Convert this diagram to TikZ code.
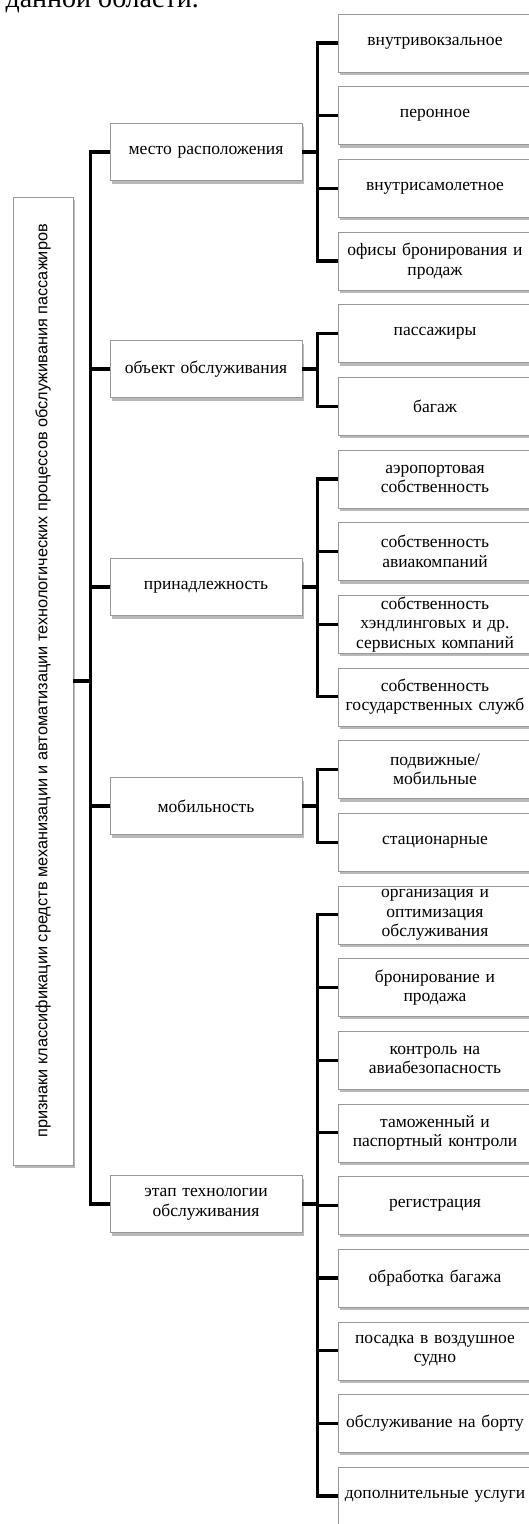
\documentclass[tikz,border=0pt]{standalone}
\usepackage{fontspec}
\setmainfont{Liberation Serif}
\newfontfamily\rootfont{Liberation Sans}
\usetikzlibrary{shadows}
\begin{document}
\begin{tikzpicture}[x=1pt,y=-1pt,line join=miter,font=\fontsize{17.5}{19.5}\selectfont,
		box/.style={draw=gray!80,fill=white,inner sep=0pt,align=center,
			drop shadow={shadow xshift=1.5pt,shadow yshift=-3pt,fill=gray!55,opacity=1}},
		leaf/.style={box,minimum width=194pt,minimum height=58pt,text width=190pt},
		group/.style={box,minimum width=192pt,minimum height=57pt,text width=184pt},
		link/.style={line width=3.2pt}]
		\useasboundingbox (0,0) rectangle (529,1524);
		\node[anchor=base west,font=\fontsize{28}{30}\selectfont] (tail) at (2,7) {данной области.};
		% root
		\node[box,minimum width=60pt,minimum height=968pt] (root) at (43,681)
			{\rotatebox{90}{\rootfont\fontsize{16.3}{18}\selectfont признаки классификации средств механизации и автоматизации технологических процессов обслуживания пассажиров}};
		% groups
		\node[group] (m1) at (206,152) {место расположения};
		\node[group] (m2) at (206,369) {объект обслуживания};
		\node[group] (m3) at (206,587) {принадлежность};
		\node[group] (m4) at (206,806) {мобильность};
		\node[group] (m5) at (206,1204) {этап технологии\\обслуживания};
		% leaves
		\foreach \t [count=\i] in {{внутривокзальное},{перонное},{внутрисамолетное},{офисы бронирования и\\продаж},
			{пассажиры},{багаж},
			{аэропортовая\\собственность},{собственность\\авиакомпаний},{собственность\\хэндлинговых и др.\\сервисных компаний},{собственность\\государственных служб},
			{подвижные/\\мобильные},{стационарные},
			{организация и\\оптимизация\\обслуживания},{бронирование и\\продажа},{контроль на\\авиабезопасность},{таможенный и\\паспортный контроли},{регистрация},{обработка багажа},{посадка в воздушное\\судно},{обслуживание на борту},{дополнительные услуги}}
			\node[leaf] (r\i) at (435,{43+72.65*(\i-1)}) {\t};
		% trunk
		\draw[link] (root.east) -- ++(18,0);
		\draw[link] (m1.west) -- ++(-19,0) |- (m5.west);
		\foreach \m in {m2,m3,m4}
			\draw[link] (\m.west) -- ++(-19,0);
		% brackets
		\foreach \m/\a/\b in {m1/1/4,m2/5/6,m3/7/10,m4/11/12,m5/13/21}{
			\draw[link] (\m.east) -- ++(16,0);
			\draw[link] (r\a.west) -- ++(-20,0) |- (r\b.west);
			\foreach \k in {\a,...,\b}
				\draw[link] (r\k.west) -- ++(-20,0);
		}
\end{tikzpicture}
\end{document}
